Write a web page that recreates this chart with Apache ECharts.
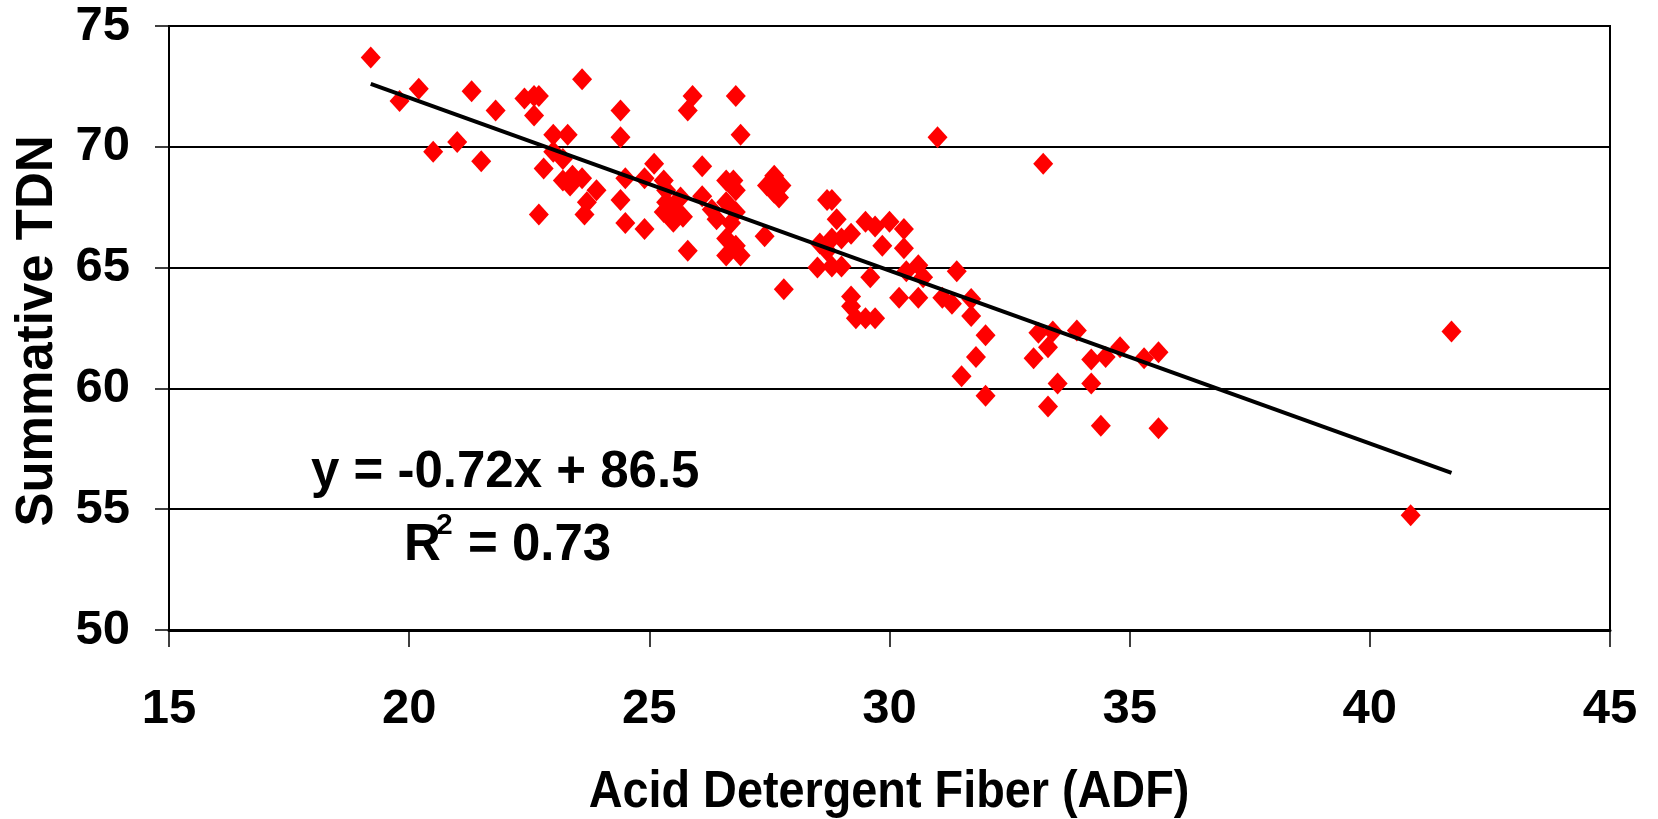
<!DOCTYPE html>
<html>
<head>
<meta charset="utf-8">
<script src="https://cdn.jsdelivr.net/npm/echarts@6/dist/echarts.min.js"></script>
<style>
html,body{margin:0;padding:0;background:#fff;}
#chart{width:1658px;height:819px;}
</style>
</head>
<body>
<div id="chart"></div>
<script>
// ADF (x) and Summative TDN (y) values
const adf = [19.2,19.8,20.2,20.5,21.0,21.3,21.5,21.8,22.4,22.6,22.7,22.6,23.6,23.0,23.3,22.8,23.0,23.2,23.2,23.4,
  23.6,23.35,23.9,23.7,23.65,22.7,24.4,24.4,24.4,24.5,24.5,24.9,24.9,25.1,25.3,25.35,25.35,25.3,25.5,25.5,
  25.7,25.65,25.9,25.8,26.8,26.9,26.1,25.8,26.1,26.3,26.4,26.6,26.75,26.8,26.6,26.8,26.7,26.6,26.6,26.9,
  26.8,27.4,27.45,27.6,27.75,27.7,27.6,27.8,28.7,28.8,28.9,28.55,28.7,28.8,29.0,29.2,28.5,28.8,29.0,29.2,
  29.2,29.3,29.5,29.7,29.5,29.7,29.6,29.85,30.0,30.3,30.3,30.35,30.6,30.7,30.2,30.6,31.4,31.1,31.3,31.7,
  31.7,32.0,31.8,31.5,32.0,31.0,33.2,33.1,33.4,33.3,33.0,33.9,33.5,33.3,34.2,34.5,34.8,34.2,35.3,35.6,
  34.4,35.6,41.7,40.85];
const tdn = [73.7,71.9,72.4,69.8,70.2,72.3,69.4,71.5,72.0,72.1,72.1,71.3,72.8,70.5,70.5,69.1,69.8,69.5,68.6,68.8,
  68.7,68.4,68.2,67.7,67.2,67.2,71.5,70.4,67.8,66.85,68.7,66.6,68.7,69.3,68.6,68.2,67.7,67.3,67.5,66.9,
  67.1,67.9,72.1,71.5,72.1,70.5,69.2,65.7,67.95,67.4,67.0,68.6,68.6,68.2,67.7,67.3,66.85,66.2,65.5,65.5,
  65.9,66.3,68.4,68.8,68.4,67.9,68.1,64.1,67.8,67.8,67.0,66.0,65.7,66.2,66.2,66.4,65.0,65.05,65.05,63.8,
  63.4,62.9,62.9,62.9,66.9,66.7,64.6,65.9,66.9,66.6,65.8,64.85,65.1,64.6,63.75,63.75,64.85,63.75,63.5,63.7,
  63.0,62.2,61.3,60.5,59.7,70.4,69.3,62.3,62.35,61.7,61.25,62.4,60.2,59.25,61.2,61.3,61.7,60.2,61.25,61.5,
  58.45,58.35,62.35,54.75];
// linear trend line end points (y = -0.72x + 86.5)
const trendX = [19.2, 41.7];
const trendY = [72.6, 56.5];
const xTicks = [15, 45, 5];
const yTicks = [50, 75, 5];

const points = adf.map((x, i) => [x, tdn[i]]);
const trend = trendX.map((x, i) => [x, trendY[i]]);

const chart = echarts.init(document.getElementById('chart'), null, {renderer: 'canvas'});
const sans = "'Liberation Sans',Arial,sans-serif";
chart.setOption({
  animation: false,
  backgroundColor: '#fff',
  grid: {left: 169, right: 48, top: 26, bottom: 189, show: true, borderColor: '#000', borderWidth: 2},
  xAxis: {
    type: 'value', min: xTicks[0], max: xTicks[1], interval: xTicks[2],
    axisLine: {lineStyle: {color: '#000', width: 3}},
    axisTick: {show: true, inside: false, length: 17, lineStyle: {color: '#000', width: 1.5}},
    axisLabel: {margin: 55, fontFamily: sans, fontWeight: 'bold', fontSize: 49, color: '#000'},
    splitLine: {show: false}
  },
  yAxis: {
    type: 'value', min: yTicks[0], max: yTicks[1], interval: yTicks[2],
    axisLine: {show: true, lineStyle: {color: '#000', width: 2}},
    axisTick: {show: true, inside: false, length: 14, lineStyle: {color: '#000', width: 1.5}},
    axisLabel: {margin: 39, fontFamily: sans, fontWeight: 'bold', fontSize: 49, color: '#000'},
    splitLine: {show: true, lineStyle: {color: '#000', width: 2}}
  },
  graphic: [
    {type: 'text', x: 38, y: 331, rotation: Math.PI / 2,
     style: {text: 'Summative TDN', font: "bold 51px 'Liberation Sans',Arial,sans-serif", fill: '#000',
             align: 'center', verticalAlign: 'middle'}},
    {type: 'text', x: 889, y: 793, scaleX: 0.9,
     style: {text: 'Acid Detergent Fiber (ADF)', font: "bold 52px 'Liberation Sans',Arial,sans-serif", fill: '#000',
             align: 'center', verticalAlign: 'middle'}},
    {type: 'text', x: 311, y: 473,
     style: {text: 'y = -0.72x + 86.5', font: "bold 51px 'Liberation Sans',Arial,sans-serif", fill: '#000',
             align: 'left', verticalAlign: 'middle'}},
    {type: 'text', x: 404, y: 545.5,
     style: {text: 'R', font: "bold 51px 'Liberation Sans',Arial,sans-serif", fill: '#000',
             align: 'left', verticalAlign: 'middle'}},
    {type: 'text', x: 436, y: 526,
     style: {text: '2', font: "bold 30px 'Liberation Sans',Arial,sans-serif", fill: '#000',
             align: 'left', verticalAlign: 'middle'}},
    {type: 'text', x: 468, y: 545.5,
     style: {text: '= 0.73', font: "bold 51px 'Liberation Sans',Arial,sans-serif", fill: '#000',
             align: 'left', verticalAlign: 'middle'}}
  ],
  series: [
    {type: 'scatter', data: points, symbol: 'diamond', symbolSize: [20, 22],
     itemStyle: {color: '#ff0000', opacity: 1}, z: 2},
    {type: 'line', data: trend, showSymbol: false, symbol: 'none',
     lineStyle: {color: '#000', width: 4}, z: 3}
  ]
});
</script>
</body>
</html>
